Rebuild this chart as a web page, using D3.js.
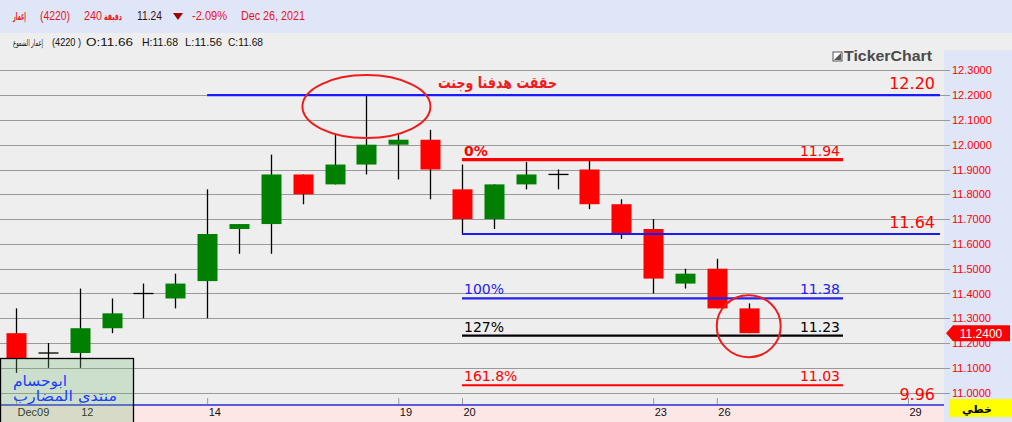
<!DOCTYPE html>
<html><head><meta charset="utf-8">
<script src="https://cdn.jsdelivr.net/npm/d3@7"></script>
<style>body{margin:0;padding:0;overflow:hidden;background:#eee}svg{display:block}</style>
</head><body>
<script>
// ---------- data ----------
const open  = [11.24,11.16,11.16,11.26,11.40,11.38,11.45,11.66,11.68,11.88,11.84,11.92,12.00,12.02,11.82,11.70,11.84,11.88,11.90,11.76,11.66,11.44,11.50,11.34];
const high  = [11.34,11.20,11.42,11.38,11.44,11.48,11.82,11.68,11.96,11.88,12.04,12.20,12.04,12.06,11.92,11.84,11.93,11.90,11.94,11.78,11.70,11.50,11.54,11.36];
const low   = [11.08,11.10,11.10,11.24,11.30,11.34,11.30,11.56,11.56,11.76,11.84,11.88,11.86,11.78,11.64,11.66,11.82,11.82,11.74,11.62,11.40,11.42,11.34,11.24];
const close = [11.14,11.16,11.26,11.32,11.40,11.44,11.64,11.68,11.88,11.80,11.92,12.00,12.02,11.90,11.70,11.84,11.88,11.88,11.76,11.64,11.46,11.48,11.34,11.24];
const tickIdx    = [0,2,6,12,14,20,22,28];
const tickLabels = ["Dec09","12","14","19","20","23","26","29"];
const yTicks = [11.0,11.1,11.2,11.3,11.4,11.5,11.6,11.7,11.8,11.9,12.0,12.1,12.2,12.3];
// fibonacci levels
const fibPct   = ["0%","100%","127%","161.8%"];
const fibVal   = [11.94,11.38,11.23,11.03];
const fibColor = ["#ff0000","#2222ee","#000000","#ff0000"];
// long reference lines
const refVal   = [12.20,11.64];
const refStart = [6,14];
const lastPrice = 11.24;
const lowLabel = 9.96;

// ---------- setup ----------
const W = 1012, H = 422;
const svg = d3.select("body").append("svg").attr("width",W).attr("height",H);
const x = d3.scaleLinear().domain([0,28]).range([16,908]);
const y = d3.scaleLinear().domain([11.0,12.3]).range([392.7,70.3]);
const RED = "#ff0000";

// backgrounds
svg.append("rect").attr("x",0).attr("y",0).attr("width",W).attr("height",33).attr("fill","#dfe6f7");
svg.append("rect").attr("x",0).attr("y",33).attr("width",W).attr("height",H-33).attr("fill","#eeeeee");
svg.append("rect").attr("x",944).attr("y",50).attr("width",68).attr("height",H-50).attr("fill","#dfe6f7");
svg.append("rect").attr("x",0).attr("y",405).attr("width",944).attr("height",17).attr("fill","#fde6e6");

// header
const hdr = svg.append("g").attr("font-family","Liberation Sans, Arial, sans-serif").attr("font-size",12);
function ht(txt,x0,x1,yy,col,opts={}){
  const t = hdr.append("text").attr("x",x0).attr("y",yy).attr("fill",col).text(txt);
  if(opts.font) t.attr("font-family",opts.font);
  if(opts.bold) t.attr("font-weight","bold");
  if(opts.size) t.attr("font-size",opts.size);
  if(x1) t.attr("textLength",x1-x0).attr("lengthAdjust","spacingAndGlyphs");
  return t;
}
ht("إعمار",13,26,20,"#e8141c",{font:"DejaVu Sans",bold:true,size:11});
ht("(4220)",40,70,20,"#e8141c");
ht("240",84,102,20,"#e8141c");
ht("دقيقة",104,122,20,"#e8141c",{font:"DejaVu Sans",bold:true,size:10});
ht(d3.format(".2f")(lastPrice),137,162,20,"#3a1010");
hdr.append("path").attr("d","M173,13 L183,13 L178,20 Z").attr("fill","#a00000");
ht("-2.09%",192,227,20,"#e8141c");
ht("Dec 26, 2021",241,305,20,"#e8141c");
ht("إعمار الشموع",13,43,46,"#111",{font:"DejaVu Sans",size:9});
ht("(4220 )",52,81,46,"#111",{size:11});
ht("O:11.66",86,133,46,"#111",{size:11});
ht("H:11.68",142,178,46,"#111",{size:11});
ht("L:11.56",185,222,46,"#111",{size:11});
ht("C:11.68",228,263,46,"#111",{size:11});

// logo
const logo = svg.append("g");
logo.append("rect").attr("x",833).attr("y",52).attr("width",9).attr("height",9).attr("fill","#fff").attr("stroke","#555").attr("stroke-width",1);
logo.append("path").attr("d","M834,60 L841,53 L841,60 Z").attr("fill","#555");
logo.append("text").attr("x",844).attr("y",61).attr("font-family","Liberation Sans, Arial").attr("font-weight","bold")
  .attr("font-size",14).attr("fill","#4a4a4a").attr("textLength",88).attr("lengthAdjust","spacingAndGlyphs").text("TickerChart");

// gridlines via axis
const grid = svg.append("g").attr("transform","translate(950,0)")
  .call(d3.axisLeft(y).tickValues(yTicks).tickSize(950).tickFormat(""));
grid.select(".domain").remove();
grid.selectAll("line").attr("stroke","#9a9a9a").attr("stroke-width",1);
grid.selectAll(".tick").attr("transform",d=>`translate(0,${Math.round(y(d))+0.5})`);

// right axis labels
const ra = svg.append("g").attr("transform","translate(950,0)")
  .call(d3.axisRight(y).tickValues(yTicks).tickSize(0).tickPadding(2).tickFormat(d3.format(".4f")));
ra.select(".domain").remove();
ra.selectAll("text").attr("fill",RED).attr("font-family","Liberation Sans, Arial").attr("font-size",11);

// bottom axis
svg.append("line").attr("x1",0).attr("x2",944).attr("y1",405).attr("y2",405).attr("stroke","#5a5ae0").attr("stroke-width",2);
const xa = svg.append("g").attr("transform","translate(0,404)")
  .call(d3.axisBottom(x).tickValues(tickIdx).tickSize(-6).tickPadding(4).tickFormat((d,i)=>tickLabels[i]));
xa.select(".domain").remove();
xa.selectAll("line").attr("stroke","#999");
xa.selectAll("text").attr("text-anchor","start").attr("dx",1).attr("fill","#111")
  .attr("font-family","Liberation Sans, Arial").attr("font-size",11);

// candles
const idx = d3.range(open.length);
const cg = svg.append("g");
cg.selectAll("line.wick").data(idx).join("line").attr("class","wick")
  .attr("x1",i=>Math.round(x(i))+0.5).attr("x2",i=>Math.round(x(i))+0.5)
  .attr("y1",i=>y(high[i])).attr("y2",i=>y(low[i]))
  .attr("stroke","#000").attr("stroke-width",1.3);
cg.selectAll("rect.body").data(idx.filter(i=>open[i]!==close[i])).join("rect").attr("class","body")
  .attr("x",i=>Math.round(x(i))-9.5).attr("width",20)
  .attr("y",i=>y(Math.max(open[i],close[i])))
  .attr("height",i=>Math.abs(y(open[i])-y(close[i])))
  .attr("fill",i=>close[i]>open[i]?"#008000":"#ff0000");
cg.selectAll("line.doji").data(idx.filter(i=>open[i]===close[i])).join("line").attr("class","doji")
  .attr("x1",i=>Math.round(x(i))-9.5).attr("x2",i=>Math.round(x(i))+10.5)
  .attr("y1",i=>y(open[i])).attr("y2",i=>y(open[i]))
  .attr("stroke","#000").attr("stroke-width",1.3);

// reference blue lines
const rg = svg.append("g");
refVal.forEach((v,k)=>{
  rg.append("line").attr("x1",x(refStart[k])).attr("x2",940).attr("y1",y(v)).attr("y2",y(v))
    .attr("stroke","#1a1aff").attr("stroke-width",2.2);
  rg.append("text").attr("x",935).attr("y",y(v)-6).attr("text-anchor","end")
    .attr("font-family","DejaVu Sans, sans-serif").attr("font-size",16).attr("fill",RED).text(d3.format(".2f")(v));
});
rg.append("text").attr("x",935).attr("y",400).attr("text-anchor","end")
  .attr("font-family","DejaVu Sans, sans-serif").attr("font-size",16).attr("fill",RED).text(d3.format(".2f")(lowLabel));

// fib lines
const fg = svg.append("g").attr("font-family","DejaVu Sans, sans-serif").attr("font-size",14);
fibVal.forEach((v,k)=>{
  fg.append("line").attr("x1",x(14)).attr("x2",843).attr("y1",y(v)).attr("y2",y(v))
    .attr("stroke",fibColor[k]).attr("stroke-width",k===0?3.2:2.2);
  fg.append("text").attr("x",464).attr("y",y(v)-4).attr("fill",fibColor[k])
    .attr("font-weight",k===0?"bold":"normal").text(fibPct[k]);
  fg.append("text").attr("x",840).attr("y",y(v)-4).attr("text-anchor","end").attr("fill",fibColor[k]).text(d3.format(".2f")(v));
});

// annotations
svg.append("ellipse").attr("cx",x(11)).attr("cy",y(12.2)+11.5).attr("rx",64).attr("ry",31.5)
  .attr("fill","none").attr("stroke","#ee1c1c").attr("stroke-width",2);
svg.append("ellipse").attr("cx",x(23)).attr("cy",y(lastPrice)-7).attr("rx",32).attr("ry",31)
  .attr("fill","none").attr("stroke","#ee1c1c").attr("stroke-width",2);
svg.append("text").attr("x",438).attr("y",88).attr("font-family","DejaVu Sans, sans-serif").attr("font-weight","bold")
  .attr("font-size",16).attr("fill","#ee1c1c").attr("textLength",119).attr("lengthAdjust","spacingAndGlyphs").text("حققت هدفنا وجنت");

// last price tag
const ty = y(lastPrice);
svg.append("path").attr("d",`M946,${ty} L953,${ty-8} L1010,${ty-8} L1010,${ty+8} L953,${ty+8} Z`).attr("fill","#ff0000");
svg.append("text").attr("x",981).attr("y",ty+4.5).attr("text-anchor","middle").attr("fill","#fff")
  .attr("font-family","Liberation Sans, Arial").attr("font-size",12).text(d3.format(".4f")(lastPrice));

// line type box
svg.append("rect").attr("x",949).attr("y",399).attr("width",63).attr("height",18).attr("fill","#ffff00");
svg.append("text").attr("x",977).attr("y",413).attr("text-anchor","middle").attr("font-family","DejaVu Sans")
  .attr("font-weight","bold").attr("font-size",11).attr("fill","#000").text("خطي");

// signature box
svg.append("rect").attr("x",0.5).attr("y",358.5).attr("width",133).attr("height",70)
  .attr("fill","rgba(116,186,116,0.27)").attr("stroke","#000").attr("stroke-width",1.3);
svg.append("text").attr("x",13).attr("y",386).attr("font-family","DejaVu Sans").attr("font-size",15)
  .attr("fill","#1a3cff").attr("textLength",54).attr("lengthAdjust","spacingAndGlyphs").text("ابوحسام");
svg.append("text").attr("x",13).attr("y",401).attr("font-family","DejaVu Sans").attr("font-size",14)
  .attr("fill","#1a3cff").attr("textLength",104).attr("lengthAdjust","spacingAndGlyphs").text("منتدى المضارب");
</script>
</body></html>
